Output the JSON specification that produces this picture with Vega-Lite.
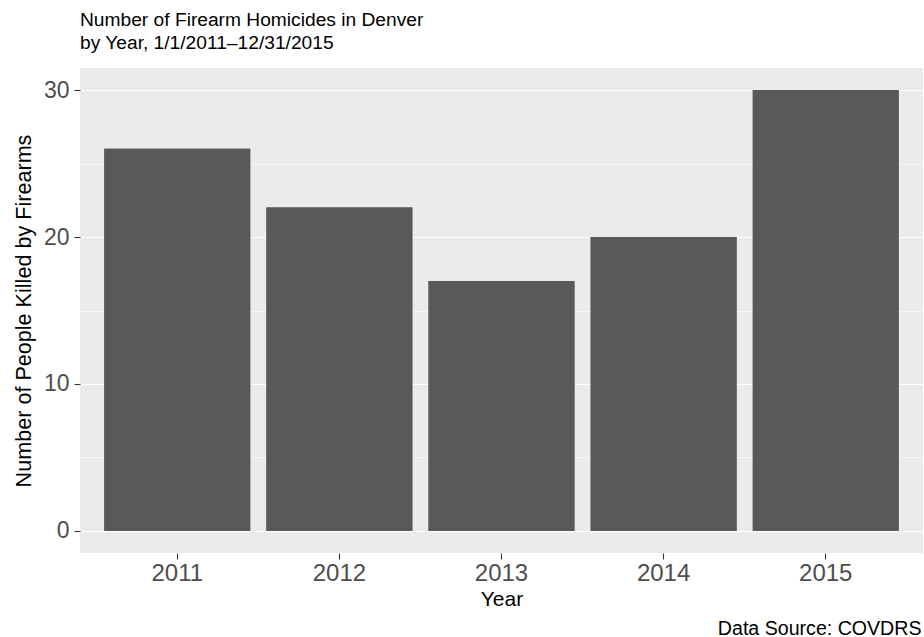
{
  "$schema": "https://vega.github.io/schema/vega-lite/v6.json",
  "autosize": {"type": "none"},
  "width": 843,
  "height": 485,
  "padding": {"left": 80, "top": 68, "right": 1, "bottom": 84},
  "background": "white",
  "title": {
    "text": ["Number of Firearm Homicides in Denver", "by Year, 1/1/2011–12/31/2015"],
    "anchor": "start",
    "frame": "group",
    "font": "Liberation Sans",
    "fontSize": 19.2,
    "fontWeight": "normal",
    "color": "black",
    "lineHeight": 22.5,
    "offset": 15
  },
  "config": {
    "view": {"fill": "#EBEBEB", "stroke": null},
    "axis": {
      "domain": false,
      "labelFont": "Liberation Sans",
      "titleFont": "Liberation Sans",
      "labelColor": "#4D4D4D",
      "titleColor": "black",
      "titleFontWeight": "normal",
      "tickColor": "#333333",
      "tickWidth": 1.1,
      "tickSize": 6
    }
  },
  "data": {
    "values": [
      {"year": "2011", "count": 26},
      {"year": "2012", "count": 22},
      {"year": "2013", "count": 17},
      {"year": "2014", "count": 20},
      {"year": "2015", "count": 30}
    ]
  },
  "resolve": {"axis": {"x": "independent"}},
  "encoding": {
    "y": {
      "field": "count",
      "type": "quantitative",
      "title": "Number of People Killed by Firearms",
      "scale": {"domain": [-1.5, 31.5], "nice": false, "zero": false},
      "axis": {
        "values": [0, 5, 10, 15, 20, 25, 30],
        "grid": true,
        "gridColor": "white",
        "gridWidth": {"condition": {"test": "datum.value % 10 === 0", "value": 1.2}, "value": 0.6},
        "tickOpacity": {"condition": {"test": "datum.value % 10 === 0", "value": 1}, "value": 0},
        "labelExpr": "datum.value % 10 === 0 ? datum.label : ''",
        "labelFontSize": 23,
        "labelPadding": 5,
        "titleFontSize": 21.6,
        "titlePadding": 8
      }
    },
    "y2": {"datum": 0}
  },
  "layer": [
    {
      "mark": {"type": "bar", "color": "#595959"},
      "encoding": {
        "x": {
          "field": "year",
          "type": "ordinal",
          "title": "Data Source: COVDRS",
          "scale": {"paddingInner": 0.1, "paddingOuter": 0.15},
          "axis": {
            "orient": "bottom",
            "grid": false,
            "labels": false,
            "tickOpacity": 0,
            "titleAlign": "right",
            "titleX": 841,
            "titleFontSize": 19.6,
            "titlePadding": 60
          }
        }
      }
    },
    {
      "mark": {"type": "bar", "color": "#595959"},
      "encoding": {
        "x": {
          "field": "year",
          "type": "ordinal",
          "title": "Year",
          "axis": {
            "orient": "bottom",
            "grid": false,
            "ticks": true,
            "tickOpacity": 1,
            "labelAngle": 0,
            "labelFontSize": 24,
            "labelPadding": 2,
            "titleFontSize": 21,
            "titlePadding": 3
          }
        }
      }
    }
  ]
}
